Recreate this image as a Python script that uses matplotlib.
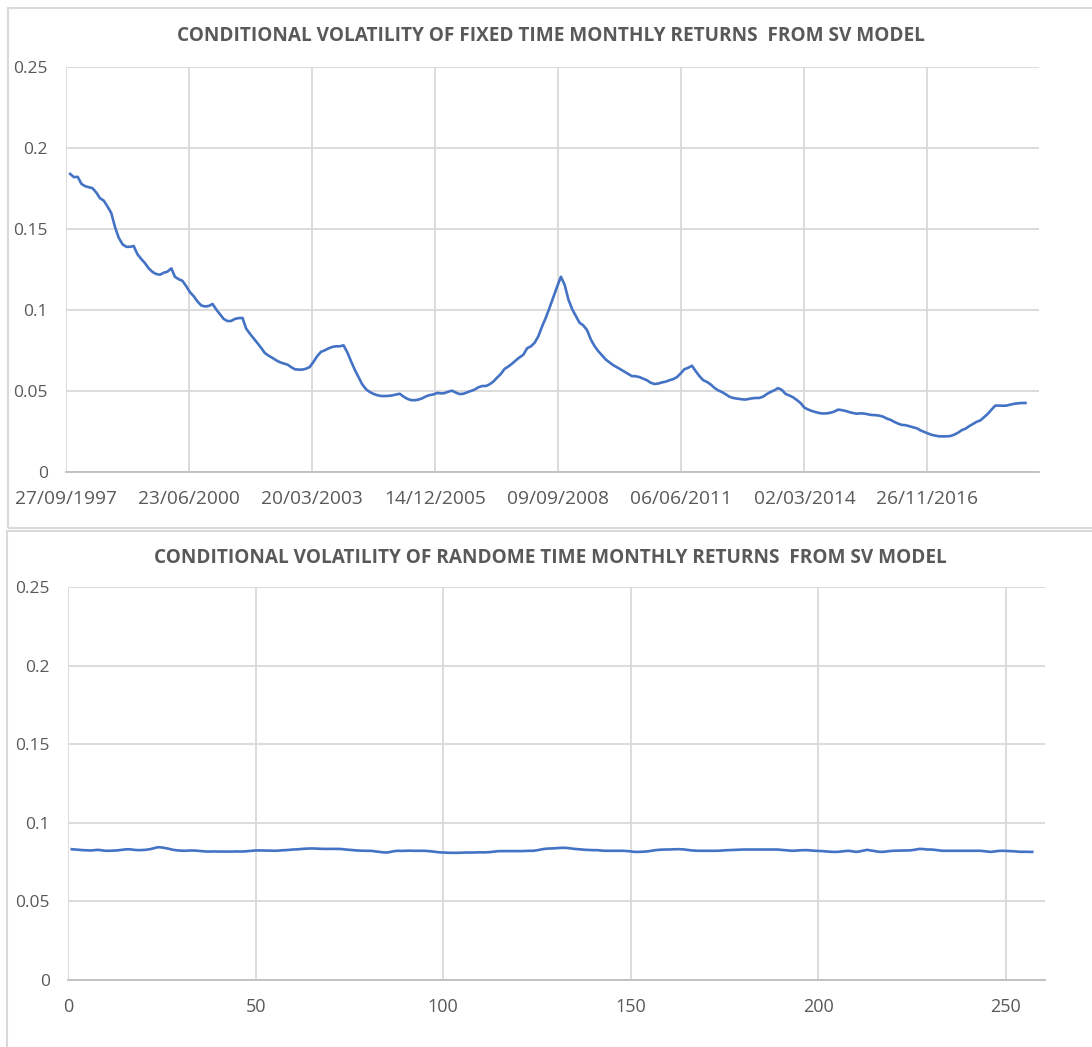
import numpy as np
import pandas as pd
import matplotlib
matplotlib.use("Agg")
import matplotlib.pyplot as plt
import matplotlib.dates as mdates
from matplotlib.patches import Rectangle
from datetime import datetime, timedelta

# ---------------- data ----------------
title_top = "CONDITIONAL VOLATILITY OF FIXED TIME MONTHLY RETURNS  FROM SV MODEL"
title_bottom = "CONDITIONAL VOLATILITY OF RANDOME TIME MONTHLY RETURNS  FROM SV MODEL"

fixed_start = "1997-10-31"
fixed_vol = [
    0.184, 0.182, 0.1822, 0.1778, 0.1765, 0.1758, 0.1752, 0.1725, 0.169, 0.1675,
    0.1638, 0.1598, 0.151, 0.1445, 0.1405, 0.139, 0.139, 0.1395, 0.1345, 0.1315,
    0.129, 0.1257, 0.1235, 0.1222, 0.1218, 0.123, 0.1237, 0.1257, 0.1205, 0.119,
    0.118, 0.1147, 0.111, 0.1085, 0.1052, 0.1028, 0.1022, 0.1025, 0.1037, 0.1002,
    0.0975, 0.0945, 0.0932, 0.0932, 0.0945, 0.095, 0.0951, 0.0885, 0.0853, 0.0825,
    0.0795, 0.0765, 0.0735, 0.0718, 0.0705, 0.069, 0.0678, 0.067, 0.0663, 0.0648,
    0.0634, 0.0632, 0.0632, 0.0638, 0.0648, 0.068, 0.0715, 0.0742, 0.0751, 0.0763,
    0.0772, 0.0776, 0.0776, 0.0782, 0.0738, 0.0682, 0.0632, 0.0585, 0.0541, 0.0511,
    0.0494, 0.0482, 0.0474, 0.0469, 0.0469, 0.047, 0.0473, 0.0478, 0.0483, 0.0466,
    0.0452, 0.0444, 0.0443, 0.0447, 0.0455, 0.0467, 0.0475, 0.0479, 0.0488, 0.0485,
    0.0487, 0.0496, 0.0502, 0.049, 0.0481, 0.0483, 0.0492, 0.05, 0.0509, 0.0523,
    0.0531, 0.0531, 0.0541, 0.0558, 0.0582, 0.0605, 0.0636, 0.0651, 0.0669, 0.0689,
    0.0708, 0.0724, 0.0764, 0.0776, 0.0797, 0.0838, 0.0898, 0.0953, 0.1014, 0.108,
    0.1145, 0.1205, 0.1155, 0.1065, 0.1005, 0.0962, 0.0922, 0.0905, 0.0877, 0.0819,
    0.0778, 0.0746, 0.072, 0.0694, 0.0676, 0.0659, 0.0646, 0.0632, 0.0619, 0.0605,
    0.0592, 0.0591, 0.0586, 0.0576, 0.0566, 0.0551, 0.0543, 0.0546, 0.0553, 0.0558,
    0.0566, 0.0573, 0.0585, 0.0608, 0.0634, 0.0643, 0.0656, 0.0623, 0.0592, 0.0567,
    0.0556, 0.054, 0.052, 0.0504, 0.0494, 0.048, 0.0465, 0.0457, 0.0453, 0.045,
    0.0447, 0.045, 0.0455, 0.0457, 0.0457, 0.0465, 0.0481, 0.0494, 0.0504, 0.0518,
    0.0506, 0.0482, 0.0472, 0.0461, 0.0444, 0.0425, 0.0398, 0.0386, 0.0377, 0.037,
    0.0364, 0.0361, 0.0362, 0.0366, 0.0373, 0.0385, 0.0382, 0.0377, 0.037, 0.0364,
    0.036, 0.0362, 0.0361, 0.0356, 0.0352, 0.0351, 0.0348, 0.0342, 0.033, 0.0322,
    0.031, 0.0299, 0.0291, 0.0289, 0.0283, 0.0276, 0.027, 0.0257, 0.0247, 0.0238,
    0.0229, 0.0224, 0.022, 0.022, 0.022, 0.0222, 0.023, 0.0242, 0.0258, 0.0267,
    0.0283, 0.0296, 0.031, 0.0319, 0.0338, 0.0359, 0.0385, 0.041, 0.041, 0.0409,
    0.041, 0.0416, 0.0421, 0.0424, 0.0426, 0.0426,
]

random_vol = [
    0.0832, 0.083, 0.0828, 0.0826, 0.0825, 0.0824, 0.0826, 0.0828, 0.0825, 0.0822,
    0.0822, 0.0823, 0.0824, 0.0827, 0.083, 0.0832, 0.083, 0.0827, 0.0826, 0.0827,
    0.0829, 0.0833, 0.0839, 0.0845, 0.0843, 0.0839, 0.0834, 0.0828, 0.0825, 0.0823,
    0.0822, 0.0823, 0.0824, 0.0823, 0.0821, 0.0819, 0.0817, 0.0817, 0.0818, 0.0817,
    0.0817, 0.0817, 0.0817, 0.0817, 0.0818, 0.0817, 0.0818, 0.082, 0.0822, 0.0824,
    0.0824, 0.0824, 0.0823, 0.0823, 0.0822, 0.0823, 0.0825, 0.0826, 0.0828, 0.083,
    0.0831, 0.0833, 0.0835, 0.0836, 0.0837, 0.0836, 0.0835, 0.0834, 0.0834, 0.0834,
    0.0834, 0.0834, 0.0833, 0.083, 0.0828, 0.0826, 0.0824, 0.0823, 0.0822, 0.0822,
    0.0821, 0.0818, 0.0815, 0.0812, 0.0811, 0.0815, 0.082, 0.0822, 0.0821, 0.0822,
    0.0823, 0.0822, 0.0822, 0.0822, 0.0822, 0.082, 0.0818, 0.0815, 0.0812, 0.0811,
    0.081, 0.0809, 0.0809, 0.0809, 0.081, 0.0811, 0.0811, 0.0811, 0.0812, 0.0812,
    0.0812, 0.0813, 0.0815, 0.0818, 0.082, 0.082, 0.082, 0.082, 0.082, 0.082,
    0.082, 0.0821, 0.0822, 0.0822, 0.0825, 0.083, 0.0834, 0.0836, 0.0837, 0.0838,
    0.084, 0.0841, 0.084, 0.0837, 0.0834, 0.0832, 0.083, 0.0828, 0.0827, 0.0826,
    0.0826, 0.0824, 0.0822, 0.0822, 0.0822, 0.0822, 0.0822, 0.0822, 0.082, 0.0818,
    0.0815, 0.0815, 0.0816, 0.0817, 0.082, 0.0824, 0.0827, 0.0829, 0.083, 0.083,
    0.0831, 0.0832, 0.0832, 0.0831, 0.0828, 0.0825, 0.0823, 0.0822, 0.0822, 0.0822,
    0.0822, 0.0822, 0.0822, 0.0823, 0.0825, 0.0826, 0.0827, 0.0828, 0.0829, 0.083,
    0.083, 0.083, 0.083, 0.083, 0.083, 0.083, 0.083, 0.083, 0.083, 0.0828,
    0.0826, 0.0824, 0.0822, 0.0823, 0.0825, 0.0826, 0.0826, 0.0824, 0.0822, 0.0821,
    0.082, 0.0818, 0.0816, 0.0815, 0.0815, 0.0817, 0.082, 0.0822, 0.0819, 0.0815,
    0.0818, 0.0823, 0.0828, 0.0824, 0.082, 0.0816, 0.0815, 0.0817, 0.082, 0.0822,
    0.0823, 0.0823, 0.0824, 0.0824, 0.0826, 0.083, 0.0834, 0.0833, 0.083, 0.083,
    0.0828, 0.0825, 0.0822, 0.0822, 0.0822, 0.0822, 0.0822, 0.0822, 0.0822, 0.0822,
    0.0822, 0.0822, 0.0822, 0.082, 0.0817, 0.0815, 0.0818, 0.0821, 0.0822, 0.0821,
    0.082, 0.0819, 0.0817, 0.0815, 0.0816, 0.0815, 0.0815,
]

y_ticks = [0, 0.05, 0.1, 0.15, 0.2, 0.25]
y_ticklabels = ["0", "0.05", "0.1", "0.15", "0.2", "0.25"]
bottom_xticks = [0, 50, 100, 150, 200, 250]

# ---------------- style ----------------
LINE = "#4472C4"
GRID = "#D9D9D9"
TXT = "#595959"
FONT = "Open Sans"
plt.rcParams["font.family"] = [FONT, "DejaVu Sans"]

W, H = 1092, 1047
fig = plt.figure(figsize=(W / 100, H / 100), dpi=100)
fig.patch.set_facecolor("white")


def px_axes(left, top, right, bottom):
    return fig.add_axes([left / W, 1 - bottom / H, (right - left) / W, (bottom - top) / H])


def style(ax, xsize):
    for s in ["top", "right", "left"]:
        ax.spines[s].set_visible(False)
    ax.spines["bottom"].set_color("#BFBFBF")
    ax.spines["bottom"].set_linewidth(1.3)
    ax.grid(True, color=GRID, linewidth=1.3)
    ax.set_axisbelow(True)
    ax.tick_params(length=0, colors=TXT)
    ax.set_ylim(0, 0.25)
    ax.set_yticks(y_ticks)
    ax.set_yticklabels(y_ticklabels)
    ax.tick_params(axis="y", pad=13, labelsize=12.5)
    ax.tick_params(axis="x", pad=13, labelsize=xsize)


# panel borders
fig.patches.append(Rectangle((8 / W, 1 - 528 / H), (W - 6) / W, 520 / H,
                             transform=fig.transFigure, fill=False,
                             edgecolor=GRID, linewidth=1.5))
fig.patches.append(Rectangle((7 / W, 1 - (H + 5) / H), (W - 5) / W, (H + 5 - 531) / H,
                             transform=fig.transFigure, fill=False,
                             edgecolor=GRID, linewidth=1.5))

# ---------------- top chart ----------------
ax1 = px_axes(66, 67, 1039, 472)
style(ax1, 13.8)
dates = pd.date_range(fixed_start, periods=len(fixed_vol), freq="ME")
ax1.plot(dates, fixed_vol, color=LINE, linewidth=1.9, solid_joinstyle="round")
x0 = datetime(1997, 9, 27)
ax1.set_xlim(x0, x0 + timedelta(days=7906))
ax1.set_xticks([x0 + timedelta(days=1000 * k) for k in range(8)])
ax1.xaxis.set_major_formatter(mdates.DateFormatter("%d/%m/%Y"))
fig.text(551 / W, 1 - 36 / H, title_top, ha="center", va="center",
         fontsize=13.7, fontweight="bold", color=TXT)

# ---------------- bottom chart ----------------
ax2 = px_axes(68, 587, 1045, 980)
style(ax2, 13)
xs = np.arange(1, len(random_vol) + 1)
ax2.plot(xs, random_vol, color=LINE, linewidth=1.9, solid_joinstyle="round")
ax2.set_xlim(0, 260.4)
ax2.set_xticks(bottom_xticks)
fig.text(550 / W, 1 - 558 / H, title_bottom, ha="center", va="center",
         fontsize=13.7, fontweight="bold", color=TXT)

fig.savefig("out.png", dpi=100, facecolor="white")
